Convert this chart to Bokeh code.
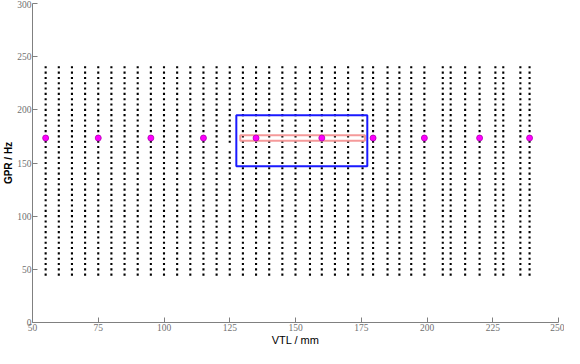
from bokeh.plotting import figure
from bokeh.models import Range1d, FixedTicker
from bokeh.embed import file_html
from bokeh.resources import INLINE

# ---- data ----
vtl_columns = [55, 60, 65, 70, 75, 80, 85, 90, 95, 100,
               105, 110, 115, 120, 125, 130, 135, 140, 145, 150,
               155.5, 160, 165, 170, 175.5, 179.5, 185, 189.5, 194, 199,
               206, 209, 214.5, 220, 226, 229, 235.5, 239]
gpr_rows = [45, 50, 55, 60, 65, 70, 75, 80, 85, 90,
            95, 100, 105, 110, 115, 120, 125, 130, 135, 140,
            145, 150, 155, 160, 165, 170, 175, 180, 185, 190,
            195, 200, 205, 210, 215, 220, 225, 230, 235, 240]
missing_points = [(125, 165)]

ref_vtl = [55, 75, 95, 115, 135, 160, 179.5, 199, 220, 239]
ref_gpr = [173.5, 173.5, 173.5, 173.5, 173.5, 173.5, 173.5, 173.5, 173.5, 173.5]

blue_box_vtl = [127.5, 177.3]
blue_box_gpr = [147, 195]
red_box_vtl = [129, 176.4]
red_box_gpr = [171, 176]

x_ticks = [50, 75, 100, 125, 150, 175, 200, 225, 250]
y_ticks = [0, 50, 100, 150, 200, 250, 300]

grid_x = []
grid_y = []
for v in vtl_columns:
    for g in gpr_rows:
        if (v, g) in missing_points:
            continue
        grid_x.append(v)
        grid_y.append(g)

p = figure(width=564, height=348, x_range=Range1d(50, 250), y_range=Range1d(0, 300),
           output_backend="svg", toolbar_location=None,
           min_border_left=0, min_border_right=6, min_border_top=3, min_border_bottom=0)

p.xgrid.visible = False
p.ygrid.visible = False
p.outline_line_color = None
p.background_fill_color = "white"
p.border_fill_color = "white"

for ax in (p.xaxis[0], p.yaxis[0]):
    ax.axis_line_color = "#808080"
    ax.major_tick_line_color = "#808080"
    ax.major_tick_in = 5
    ax.major_tick_out = 0
    ax.minor_tick_line_color = None
    ax.major_label_text_color = "#707070"
    ax.major_label_text_font = "Liberation Sans Narrow"
    ax.major_label_text_font_size = "9.5px"
    ax.axis_label_text_color = "black"
    ax.axis_label_text_font = "Liberation Sans"
    ax.axis_label_text_font_style = "normal"

p.xaxis.ticker = FixedTicker(ticks=x_ticks)
p.yaxis.ticker = FixedTicker(ticks=y_ticks)
p.xaxis.major_label_standoff = 1
p.yaxis.major_label_standoff = 1
p.xaxis.axis_label = "VTL / mm"
p.xaxis.axis_label_text_font_size = "11px"
p.xaxis.axis_label_standoff = 0
p.yaxis.axis_label = "GPR / Hz"
p.yaxis.axis_label_text_font_size = "10px"
p.yaxis.axis_label_text_font_style = "bold"
p.yaxis.axis_label_standoff = 0

p.scatter(grid_x, grid_y, marker="square", size=2.1, color="black", line_width=0)

p.quad(left=[blue_box_vtl[0]], right=[blue_box_vtl[1]],
       bottom=[blue_box_gpr[0]], top=[blue_box_gpr[1]],
       fill_color=None, line_color="#1a1aff", line_width=2)
p.quad(left=[red_box_vtl[0]], right=[red_box_vtl[1]],
       bottom=[red_box_gpr[0]], top=[red_box_gpr[1]],
       fill_color=None, line_color="#f59a9a", line_width=2)

p.scatter(ref_vtl, ref_gpr, marker="circle", size=6, fill_color="#ff00ff",
          line_color="#b000b0", line_width=0.8)

open("out.html", "w").write(file_html(p, INLINE))
